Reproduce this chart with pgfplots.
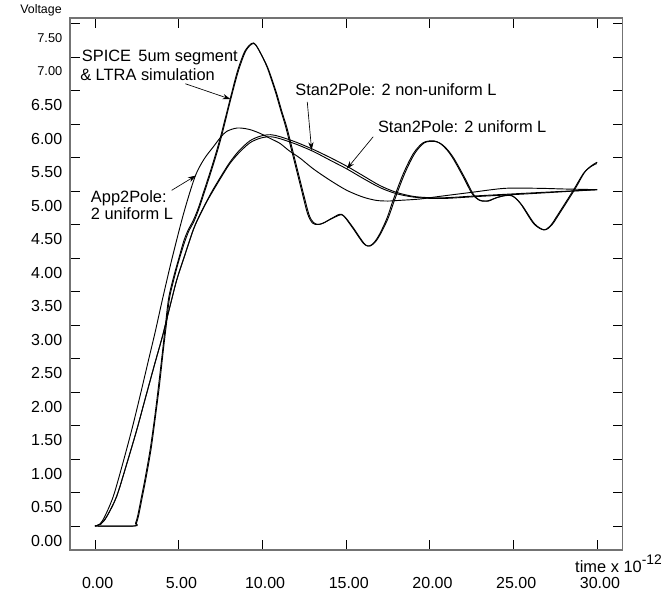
\documentclass[border=0pt]{standalone}
\usepackage{fontspec}
\setmainfont{Liberation Sans}
\usepackage{pgfplots}
\pgfplotsset{compat=1.18}
\usetikzlibrary{arrows.meta}

\definecolor{framegray}{RGB}{115,115,115}
\newcommand{\annfont}{\fontsize{12.3}{14}\selectfont}
\newcommand{\smallfont}{\fontsize{9.6}{11}\selectfont}
\tikzset{
  curve/.style={black, line width=0.7pt, smooth},
  note/.style={anchor=base west, inner sep=0pt, font=\annfont},
  pointer/.style={-{Stealth[length=6pt,width=4pt]}, line width=0.5pt},
}

\begin{document}
\begin{tikzpicture}
\begin{axis}[
  scale only axis,
  width=414.5pt, height=398.8pt,
  xmin=-1.493, xmax=31.52,
  ymin=-0.358, ymax=7.578,
  clip=false,
  xtick={0,5,10,15,20,25,30},
  xticklabels={0.00,5.00,10.00,15.00,20.00,25.00,30.00},
  ytick={0,0.5,1,1.5,2,2.5,3,3.5,4,4.5,5,5.5,6,6.5,7,7.5},
  yticklabels={0.00,0.50,1.00,1.50,2.00,2.50,3.00,3.50,4.00,4.50,5.00,5.50,6.00,6.50,{\smallfont 7.00},{\smallfont 7.50}},
  tick label style={font=\fontsize{12}{14}\selectfont},
  xticklabel style={yshift=-17pt, xshift=2pt},
  yticklabel style={yshift=-10.9pt, xshift=-2.25pt},
  major tick length=7.5pt,
  tick style={black, line width=0.6pt},
  axis line style={draw=framegray, line width=1.2pt},
  xlabel={time x 10\raisebox{6pt}{\fontsize{10.4}{12}\selectfont -12}},
  xlabel style={at={(axis description cs:0.9137,-0.0423)}, anchor=base west, inner sep=0pt, font=\annfont},
  ylabel={Voltage},
  ylabel style={rotate=-90, at={(axis description cs:-0.0525,1.0156)}, anchor=center, font=\fontsize{9.3}{11}\selectfont},
]

% frame
\draw[framegray, line width=1.2pt] (rel axis cs:0,0) rectangle (rel axis cs:1,1);

% SPICE 5um segment
\addplot[curve] coordinates {
(0,0) (2.3,0) (2.42,0.04) (2.55,0.15) (2.75,0.4) (3.0,0.72) (3.3,1.15) (3.58,1.65)
(3.8,2.1) (4.04,2.62) (4.2,2.98) (4.4,3.4) (4.7,3.72) (4.98,3.97) (5.3,4.25) (5.57,4.42)
(5.85,4.55) (6.15,4.73) (6.47,4.97) (7.0,5.38) (7.47,5.78) (8.06,6.36) (8.5,6.78)
(8.9,7.06) (9.2,7.17) (9.48,7.21) (9.75,7.12) (10.26,6.86) (10.75,6.5) (11.1,6.2)
(11.4,5.95) (11.85,5.5) (12.3,5.05) (12.7,4.66) (13.0,4.52) (13.3,4.5) (13.64,4.52)
(14.2,4.6) (14.74,4.65) (15.33,4.47) (16.03,4.22) (16.39,4.18) (16.7,4.24) (17.03,4.37)
(17.45,4.6) (17.82,4.87) (18.42,5.26) (19.02,5.56) (19.6,5.72) (20.21,5.75) (20.61,5.71)
(21.0,5.62) (21.4,5.48) (22.0,5.21) (22.5,4.97) (22.9,4.87) (23.4,4.85) (24.0,4.9)
(24.8,4.94) (25.39,4.82) (26.18,4.52) (26.78,4.42) (27.2,4.48) (27.58,4.62) (28.57,5.01)
(29.17,5.26) (29.6,5.36) (29.97,5.41)
};

% LTRA simulation
\addplot[curve] coordinates {
(0,0) (2.35,0) (2.47,0.04) (2.6,0.15) (2.8,0.4) (3.05,0.72) (3.35,1.15) (3.62,1.65)
(3.85,2.1) (4.08,2.62) (4.25,2.98) (4.45,3.4) (4.75,3.72) (5.02,3.97) (5.33,4.22) (5.6,4.4)
(5.9,4.54) (6.2,4.73) (6.52,4.97) (7.05,5.38) (7.52,5.78) (8.1,6.36) (8.55,6.78)
(8.95,7.06) (9.25,7.17) (9.52,7.2) (9.8,7.1) (10.32,6.84) (10.82,6.48) (11.17,6.18)
(11.48,5.93) (11.93,5.48) (12.38,5.03) (12.78,4.65) (13.05,4.53) (13.35,4.5) (13.7,4.53)
(14.25,4.6) (14.8,4.64) (15.4,4.46) (16.1,4.21) (16.45,4.18) (16.78,4.25) (17.1,4.38)
(17.52,4.6) (17.9,4.87) (18.5,5.26) (19.1,5.56) (19.68,5.72) (20.3,5.74) (20.7,5.7)
(21.08,5.61) (21.48,5.47) (22.08,5.2) (22.58,4.96) (22.98,4.86) (23.5,4.85) (24.1,4.91)
(24.88,4.93) (25.47,4.8) (26.26,4.51) (26.86,4.42) (27.28,4.49) (27.66,4.63) (28.65,5.02)
(29.25,5.28) (29.67,5.38) (30.0,5.43)
};

% Stan2Pole: 2 non-uniform L
\addplot[curve] coordinates {
(0,0) (0.35,0.03) (0.7,0.14) (1.29,0.44) (1.9,0.93) (2.49,1.43) (3.0,1.9) (3.58,2.43)
(4.05,2.85) (4.5,3.3) (4.88,3.67) (5.27,3.97) (5.87,4.42) (6.27,4.65) (6.7,4.86)
(7.07,5.03) (7.6,5.25) (8.06,5.43) (8.6,5.6) (9.26,5.75) (9.9,5.82) (10.5,5.84)
(11.06,5.81) (12.0,5.73) (13.04,5.62) (14.04,5.5) (15.04,5.37) (16.0,5.23) (17.03,5.08)
(18.0,4.98) (19.0,4.92) (20.0,4.9) (21.0,4.9) (23.0,4.93) (26.0,4.97) (30.0,5.02)
};

% Stan2Pole: 2 uniform L
\addplot[curve] coordinates {
(0,0) (0.35,0.03) (0.7,0.14) (1.29,0.44) (1.9,0.93) (2.49,1.43) (3.0,1.9) (3.58,2.43)
(4.05,2.85) (4.5,3.3) (4.88,3.67) (5.27,3.97) (5.87,4.42) (6.27,4.64) (6.7,4.85)
(7.07,5.01) (7.6,5.23) (8.06,5.41) (8.6,5.57) (9.26,5.72) (9.9,5.79) (10.5,5.81)
(11.06,5.78) (12.0,5.7) (13.04,5.59) (14.04,5.46) (15.04,5.33) (16.0,5.19) (17.03,5.05)
(18.0,4.96) (19.0,4.91) (20.0,4.89) (21.0,4.89) (23.0,4.92) (26.0,4.96) (30.0,5.02)
};

% App2Pole: 2 uniform L
\addplot[curve] coordinates {
(0,0) (0.3,0.03) (0.6,0.15) (1.09,0.44) (1.6,0.88) (2.19,1.43) (2.7,1.95) (3.2,2.48)
(3.6,2.9) (4.0,3.35) (4.58,3.97) (5.3,4.67) (5.97,5.21) (6.5,5.47) (7.07,5.66) (7.5,5.8)
(7.87,5.89) (8.5,5.94) (9.2,5.92) (9.86,5.86) (10.5,5.78) (11.05,5.71) (11.6,5.6)
(12.25,5.49) (13.04,5.33) (14.04,5.16) (15.04,5.01) (16.0,4.91) (16.8,4.86) (17.5,4.85)
(18.2,4.86) (19.4,4.88) (20.6,4.92) (22.5,4.98) (24.5,5.04) (26.5,5.04) (28.0,5.03) (30.0,5.02)
};

% annotations
\node[note] at (axis cs:-0.795,6.927) {SPICE\hspace{2pt} 5um segment};
\node[note] at (axis cs:-0.896,6.643) {\& LTRA simulation};
\draw[pointer] (axis cs:5.4,6.6) -- (axis cs:8.1,6.37);

\node[note] at (axis cs:11.95,6.43) {Stan2Pole: 2 non-uniform L};
\draw[pointer] (axis cs:12.68,6.33) -- (axis cs:12.94,5.61);

\node[note] at (axis cs:16.89,5.87) {Stan2Pole: 2 uniform L};
\draw[pointer] (axis cs:16.62,5.81) -- (axis cs:15.04,5.33);

\node[note] at (axis cs:-0.257,4.83) {App2Pole:};
\node[note] at (axis cs:-0.257,4.58) {2 uniform L};
\draw[pointer] (axis cs:4.58,5.01) -- (axis cs:6.03,5.23);

\coordinate (sw) at (rel axis cs:0,0);
\coordinate (ne) at (rel axis cs:1,1);
\end{axis}
\pgfresetboundingbox
\path[use as bounding box] ([shift={(-52.5pt,-33pt)}]sw) rectangle ([shift={(34pt,13.7pt)}]ne);
\end{tikzpicture}
\end{document}
